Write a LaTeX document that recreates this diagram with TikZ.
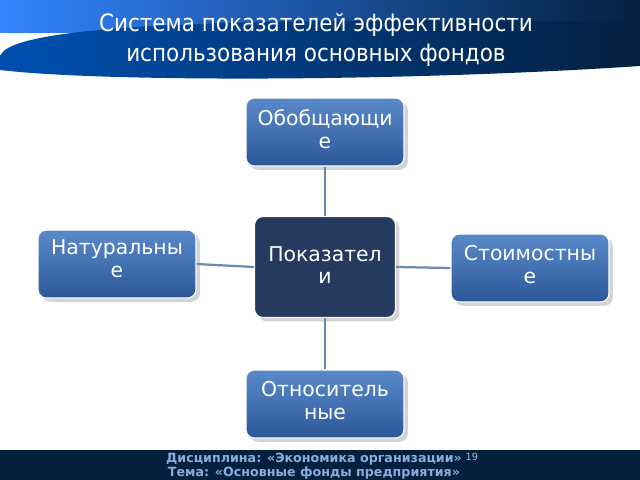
\documentclass[tikz,border=0pt]{standalone}
\usepackage{fontspec}
\setmainfont{DejaVu Sans}
\newfontfamily\titlefont{DejaVu Sans Condensed}
\definecolor{boxtop}{HTML}{5A8ACB}
\definecolor{boxbot}{HTML}{2B5797}
\definecolor{hubfill}{HTML}{253A5E}
\definecolor{navy}{HTML}{03203F}
\definecolor{linkcol}{HTML}{6A8AB0}
\usetikzlibrary{positioning,shadows}

\newlength{\unitpx}\setlength{\unitpx}{0.025cm}
\tikzset{
  catbox/.style={rounded corners=6pt, top color=boxtop, bottom color=boxbot,
    draw=white, line width=0.8pt, minimum width=158\unitpx,
    minimum height=68\unitpx, drop shadow={opacity=0.35}},
  hubbox/.style={catbox, top color=hubfill, bottom color=hubfill,
    minimum width=141\unitpx, minimum height=101\unitpx},
  boxlabel/.style={text=white, align=center, inner sep=0pt,
    font=\fontsize{14.5}{16}\selectfont},
  link/.style={draw=linkcol, line width=1.6pt}
}

\begin{document}
\begin{tikzpicture}[x=0.025cm,y=-0.025cm]
  \useasboundingbox (0,0) rectangle (640,480);
  % header
  \shade[left color=blue!60!cyan!80!white, right color=navy] (0,0) rectangle (640,32);
  \shade[left color=blue!55!cyan!70!black, right color=navy]
    (0,58) .. controls (0,20) and (300,18) .. (640,22) -- (640,66)
    .. controls (400,82) and (100,82) .. (0,70) -- cycle;
  \node[text=white, align=center, font=\titlefont\fontsize{17}{21}\selectfont] (title) at (316,40)
    {Система показателей эффективности\\использования основных фондов};
  % footer
  \fill[navy] (0,450) rectangle (640,480);
  \node[text=boxtop!70!white, align=center, font=\bfseries\fontsize{9}{8.5}\selectfont] (foot) at (314,466)
    {Дисциплина: «Экономика организации»\\Тема: «Основные фонды предприятия»};
  \node[text=boxtop!60!white, font=\fontsize{7}{7}\selectfont] (page) at (472,457) {19};
  % boxes
  \node[hubbox] (hub) at (325,267) {};
  \node[catbox] (top) at (325,132) {};
  \node[catbox] (left) at (117,264) {};
  \node[catbox] (right) at (530,268) {};
  \node[catbox] (bottom) at (325,404) {};
  \node[boxlabel, below=30\unitpx of hub.north] (hubtxt) {Показател\\и};
  \node[boxlabel, below=12\unitpx of top.north] (toptxt) {Обобщающи\\е};
  \node[boxlabel, below=10\unitpx of left.north] (lefttxt) {Натуральны\\е};
  \node[boxlabel, below=12\unitpx of right.north] (righttxt) {Стоимостны\\е};
  \node[boxlabel, below=12\unitpx of bottom.north] (bottomtxt) {Относитель\\ные};
  % links
  \draw[link] (hub.north) -- (top.south);
  \draw[link] (hub.south) -- (bottom.north);
  \draw[link] (hub.west) -- (left.east);
  \draw[link] (hub.east) -- (right.west);
\end{tikzpicture}
\end{document}
